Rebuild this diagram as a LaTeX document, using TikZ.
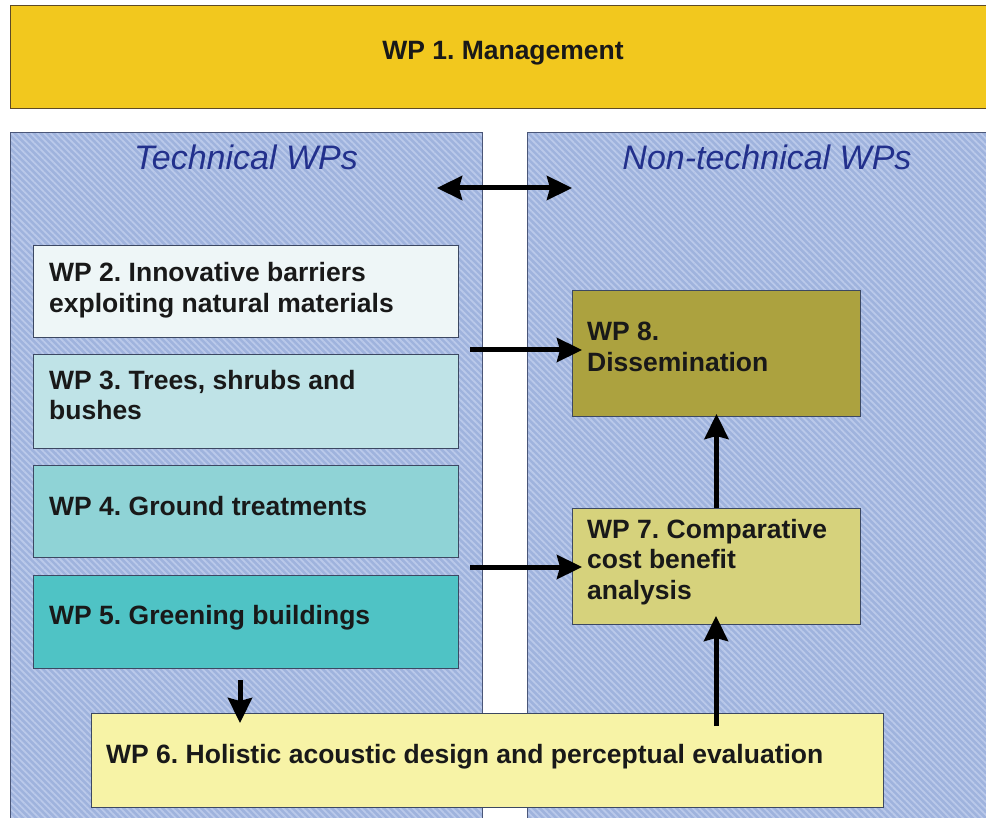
\documentclass[tikz,border=0pt]{standalone}
\usepackage{fontspec}
\setmainfont{Liberation Sans}
\usetikzlibrary{patterns.meta,arrows.meta}
\frenchspacing

\definecolor{mgmt}{HTML}{F2C81E}
\definecolor{mgmtedge}{HTML}{5E4A26}
\definecolor{panel}{HTML}{9FB3DD}
\definecolor{stripe}{HTML}{BAC9EA}
\definecolor{paneledge}{HTML}{4A5678}
\definecolor{titleblue}{HTML}{22308C}
\definecolor{boxedge}{HTML}{3C4862}
\definecolor{wpa}{HTML}{EEF6F7}
\definecolor{wpb}{HTML}{BFE3E7}
\definecolor{wpc}{HTML}{8FD3D6}
\definecolor{wpd}{HTML}{4FC3C5}
\definecolor{wpe}{HTML}{F7F3A6}
\definecolor{wpf}{HTML}{D6D27C}
\definecolor{wpg}{HTML}{ACA23F}

\tikzset{
  panelbox/.style={draw=paneledge, line width=0.9pt, preaction={fill=panel},
    pattern={Lines[angle=-45,distance=4.6pt,line width=1.8pt]}, pattern color=stripe},
  wpbox/.style={draw=boxedge, line width=1pt, rectangle, inner sep=0pt, anchor=north west},
  wptext/.style={anchor=west, inner sep=0pt, align=left,
    font=\fontsize{26.5}{30.5}\selectfont\bfseries, text=black!90},
  paneltitle/.style={inner sep=0pt, font=\fontsize{34}{38}\selectfont\itshape, text=titleblue},
  flow/.style={line width=5pt, -{Stealth[length=25pt,width=24pt,inset=3pt]}},
  twoway/.style={line width=5pt, {Stealth[length=25pt,width=24pt,inset=3pt]}-{Stealth[length=25pt,width=24pt,inset=3pt]}}
}

\begin{document}
\begin{tikzpicture}[x=1pt,y=-1pt]
\useasboundingbox (0,0) rectangle (986,818);
\clip (0,0) rectangle (986,818);
\fill[white] (0,0) rectangle (986,818);

% management bar
\node[draw=mgmtedge, line width=1.2pt, fill=mgmt, rectangle, inner sep=0pt,
  anchor=north west, minimum width=990pt, minimum height=103pt] (wp1) at (10,5) {};
\node[wptext, anchor=center] (t1) at (503,53) {WP 1. Management};

% the two groups
\node[panelbox, rectangle, inner sep=0pt, anchor=north west,
  minimum width=472pt, minimum height=720pt] (tech) at (10,132) {};
\node[panelbox, rectangle, inner sep=0pt, anchor=north west,
  minimum width=480pt, minimum height=720pt] (nontech) at (527,132) {};
\node[paneltitle] (ttech) at (246,157) {Technical WPs};
\node[paneltitle] (tnon) at (767,157) {Non-technical WPs};

% technical work packages
\node[wpbox, fill=wpa, minimum width=425pt, minimum height=92pt] (wp2) at (33,245) {};
\node[wpbox, fill=wpb, minimum width=425pt, minimum height=94pt] (wp3) at (33,354) {};
\node[wpbox, fill=wpc, minimum width=425pt, minimum height=92pt] (wp4) at (33,465) {};
\node[wpbox, fill=wpd, minimum width=425pt, minimum height=93pt] (wp5) at (33,575) {};
\node[wpbox, fill=wpe, minimum width=792pt, minimum height=94pt] (wp6) at (91,713) {};

% non-technical work packages
\node[wpbox, fill=wpg, minimum width=288pt, minimum height=126pt] (wp8) at (572,290) {};
\node[wpbox, fill=wpf, minimum width=288pt, minimum height=116pt] (wp7) at (572,508) {};

% labels
\node[wptext] (t2) at (49,290) {WP 2. Innovative barriers\\exploiting natural materials};
\node[wptext] (t3) at (49,395) {WP 3. Trees, shrubs and\\bushes};
\node[wptext] (t4) at (49,506) {WP 4. Ground treatments};
\node[wptext] (t5) at (49,618) {WP 5. Greening buildings};
\node[wptext] (t6) at (106,757) {WP 6. Holistic acoustic design and perceptual evaluation};
\node[wptext] (t7) at (587,562) {WP 7. Comparative\\cost benefit\\analysis};
\node[wptext] (t8) at (587,347) {WP 8.\\Dissemination};

% connectors
\coordinate (da) at (437,188);
\coordinate (db) at (572,188);
\coordinate (s23) at (470,350);
\coordinate (s45) at (470,567);
\coordinate (s5) at (240,680);
\coordinate (s6) at (716,726);

\draw[twoway] (da) -- (db);
\draw[flow, shorten >=-10pt] (s23) -- (s23 -| wp8.west);
\draw[flow, shorten >=-10pt] (s45) -- (s45 -| wp7.west);
\draw[flow, shorten >=-3pt] (wp7.north) -- (wp8.south);
\draw[flow, shorten >=-9pt] (s6) -- (s6 |- wp7.south);
\draw[flow, shorten >=-10pt] (s5) -- (s5 |- wp6.north);
\end{tikzpicture}
\end{document}
